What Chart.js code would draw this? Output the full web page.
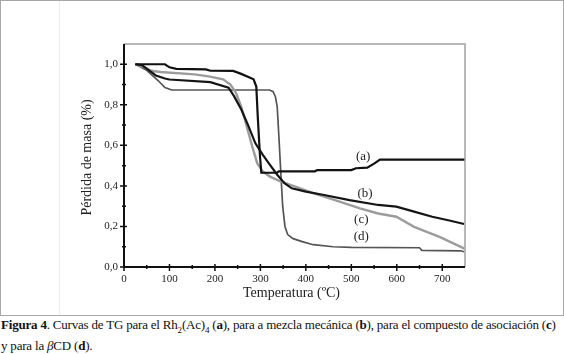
<!DOCTYPE html>
<html>
<head>
<meta charset="utf-8">
<script src="https://cdn.jsdelivr.net/npm/chart.js@4.4.1/dist/chart.umd.min.js"></script>
<style>
  body { margin: 0; background: #fff; }
  #frame { position: absolute; left: 0; top: 0; width: 562px; height: 314px; border: 1px solid #a8a8a8; }
  #inner { position: absolute; left: 58px; top: 0; width: 1px; height: 314px; background: #ececec; }
  #tg-canvas { position: absolute; left: 0; top: 0; }
  #caption { position: absolute; left: 1px; top: 317px; width: 564px; font-family: "Liberation Serif", "DejaVu Serif", serif; font-size: 13px; letter-spacing: -0.2px; line-height: 16px; color: #111; white-space: nowrap; }
  #caption sub { font-size: 9px; }
</style>
</head>
<body>
<div id="frame">
  <div id="inner"></div>
  <canvas id="tg-canvas" width="562" height="314"></canvas>
</div>
<div id="caption"><b>Figura 4</b>. Curvas de TG para el Rh<sub>2</sub>(Ac)<sub>4</sub> (<b>a</b>), para a mezcla mecánica (<b>b</b>), para el compuesto de asociación (<b>c</b>)<br>y para la <i>β</i>CD (<b>d</b>).</div>
<script>
// temperatura (ºC) / perdida de masa
const tempA = [25, 90, 100, 115, 180, 190, 240, 255, 275, 285, 291, 294, 299, 302, 337, 340, 420, 425, 500, 510, 535, 550, 563, 750];
const massA = [1.0, 1.0, 0.985, 0.977, 0.975, 0.968, 0.967, 0.955, 0.936, 0.926, 0.89, 0.75, 0.55, 0.465, 0.465, 0.472, 0.472, 0.478, 0.478, 0.487, 0.49, 0.51, 0.53, 0.53];

const tempB = [25, 40, 55, 70, 90, 100, 190, 230, 242, 258, 274, 289, 305, 321, 337, 353, 369, 400, 440, 496, 559, 599, 638, 678, 718, 748];
const massB = [1.0, 0.995, 0.97, 0.945, 0.93, 0.925, 0.912, 0.885, 0.843, 0.777, 0.694, 0.61, 0.554, 0.504, 0.455, 0.413, 0.388, 0.372, 0.355, 0.33, 0.306, 0.298, 0.273, 0.248, 0.228, 0.212];

const tempC = [25, 45, 60, 80, 155, 186, 218, 234, 246, 258, 270, 282, 293, 305, 321, 345, 377, 416, 464, 519, 559, 599, 638, 694, 749];
const massC = [1.0, 0.985, 0.968, 0.962, 0.95, 0.94, 0.926, 0.9, 0.86, 0.79, 0.694, 0.595, 0.512, 0.471, 0.446, 0.421, 0.397, 0.364, 0.33, 0.289, 0.264, 0.248, 0.198, 0.149, 0.091];

const tempD = [25, 50, 75, 90, 105, 320, 328, 333, 337, 341, 345, 349, 354, 360, 372, 392, 416, 460, 500, 650, 655, 740, 748];
const massD = [1.0, 0.97, 0.92, 0.885, 0.873, 0.873, 0.865, 0.84, 0.79, 0.63, 0.46, 0.30, 0.20, 0.16, 0.14, 0.125, 0.11, 0.1, 0.097, 0.095, 0.082, 0.08, 0.075];

const seriesLabels = ['(a)', '(b)', '(c)', '(d)'];
const labelTemps = [526, 530, 522, 522];
const labelMasses = [0.545, 0.36, 0.235, 0.148];

const xMajor = [0, 100, 200, 300, 400, 500, 600, 700];
const xMinor = [50, 150, 250, 350, 450, 550, 650];
const yMajor = [0, 0.2, 0.4, 0.6, 0.8, 1.0];
const yMinor = [0.1, 0.3, 0.5, 0.7, 0.9];

const serif = '"Liberation Serif", "DejaVu Serif", serif';

function toPoints(xs, ys) {
    return xs.map((x, i) => ({x: x, y: ys[i]}));
}

// box frame, ticks, axis titles and curve labels
const framePlugin = {
    id: 'tgFrame',
    afterDraw(chart) {
        const ctx = chart.ctx;
        const area = chart.chartArea;
        const xs = chart.scales.x;
        const ys = chart.scales.y;
        ctx.save();
        // gray top / right
        ctx.strokeStyle = '#a0a0a0';
        ctx.lineWidth = 1.5;
        ctx.beginPath();
        ctx.moveTo(area.left, area.top);
        ctx.lineTo(area.right, area.top);
        ctx.lineTo(area.right, area.bottom);
        ctx.stroke();
        // black left / bottom
        ctx.strokeStyle = '#111';
        ctx.lineWidth = 2;
        ctx.beginPath();
        ctx.moveTo(area.left, area.top);
        ctx.lineTo(area.left, area.bottom);
        ctx.lineTo(area.right, area.bottom);
        ctx.stroke();
        ctx.lineWidth = 1.5;
        ctx.beginPath();
        xMajor.forEach(v => {
            const p = xs.getPixelForValue(v);
            ctx.moveTo(p, area.bottom - 3);
            ctx.lineTo(p, area.bottom + 4);
        });
        xMinor.forEach(v => {
            const p = xs.getPixelForValue(v);
            ctx.moveTo(p, area.bottom - 2);
            ctx.lineTo(p, area.bottom + 2);
        });
        yMajor.forEach(v => {
            const p = ys.getPixelForValue(v);
            ctx.moveTo(area.left - 4, p);
            ctx.lineTo(area.left + 3, p);
        });
        yMinor.forEach(v => {
            const p = ys.getPixelForValue(v);
            ctx.moveTo(area.left - 2, p);
            ctx.lineTo(area.left + 2, p);
        });
        ctx.stroke();

        ctx.fillStyle = '#222';
        ctx.font = '14px ' + serif;
        ctx.textAlign = 'center';
        ctx.textBaseline = 'middle';
        ctx.fillText('Temperatura (ºC)', (area.left + area.right) / 2 - 3, 292);
        ctx.save();
        ctx.translate(86, (area.top + area.bottom) / 2 + 2);
        ctx.rotate(-Math.PI / 2);
        ctx.fillText('Pérdida de masa (%)', 0, 0);
        ctx.restore();

        ctx.font = '13px ' + serif;
        seriesLabels.forEach((t, i) => {
            ctx.fillText(t, xs.getPixelForValue(labelTemps[i]), ys.getPixelForValue(labelMasses[i]));
        });
        ctx.restore();
    }
};

const tgCanvas = document.querySelector('#tg-canvas');

const tgChart = new Chart(tgCanvas, {
    type: 'line',
    data: {
        datasets: [
            { label: 'a', data: toPoints(tempA, massA), borderColor: '#111', borderWidth: 2.2 },
            { label: 'b', data: toPoints(tempB, massB), borderColor: '#151515', borderWidth: 2.2 },
            { label: 'c', data: toPoints(tempC, massC), borderColor: '#9c9c9c', borderWidth: 2.4 },
            { label: 'd', data: toPoints(tempD, massD), borderColor: '#555', borderWidth: 1.7 }
        ]
    },
    options: {
        responsive: false,
        animation: false,
        events: [],
        elements: {
            point: { radius: 0 },
            line: { tension: 0, fill: false }
        },
        layout: { padding: { top: 43, right: 98, left: 0, bottom: 0 } },
        plugins: {
            legend: { display: false },
            tooltip: { enabled: false }
        },
        scales: {
            x: {
                type: 'linear',
                min: 0,
                max: 750,
                grid: { display: false, drawTicks: false },
                border: { display: false },
                afterBuildTicks: s => { s.ticks = xMajor.map(v => ({value: v})); },
                ticks: {
                    padding: 6,
                    autoSkip: false,
                    color: '#222',
                    font: { family: serif, size: 11 },
                    maxRotation: 0,
                    callback: v => String(v)
                },
                afterFit: s => { s.height = 48; }
            },
            y: {
                min: 0,
                max: 1.1,
                grid: { display: false, drawTicks: false },
                border: { display: false },
                afterBuildTicks: s => { s.ticks = yMajor.map(v => ({value: v})); },
                ticks: {
                    padding: 6,
                    autoSkip: false,
                    color: '#222',
                    font: { family: serif, size: 11 },
                    callback: v => v.toFixed(1).replace('.', ',')
                },
                afterFit: s => { s.width = 123; }
            }
        }
    },
    plugins: [framePlugin]
});
</script>
</body>
</html>
